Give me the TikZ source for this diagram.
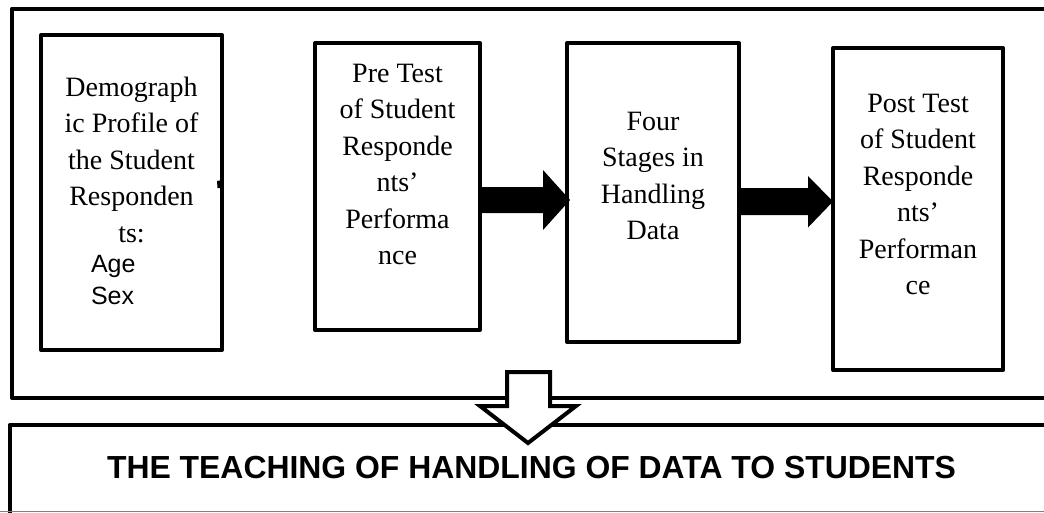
\documentclass[tikz,border=0pt]{standalone}
\usepackage{fontspec}
\setmainfont{Liberation Serif}
\newfontfamily\arialfont{Liberation Sans}
\usetikzlibrary{calc}
\tikzset{
  box/.style={draw=black, line width=4pt, line join=round, outer sep=0pt, inner sep=0pt, anchor=north west},
  boxtext/.style={inner sep=0pt, outer sep=0pt, align=center, anchor=north, font={\fontsize{28}{36.5}\selectfont}},
  listtext/.style={inner sep=0pt, outer sep=0pt, align=left, anchor=north west, font={\arialfont\fontsize{25}{32}\selectfont}},
  blockarrow/.style={fill=black},
  hollowarrow/.style={draw=black, fill=white, line width=4pt, line join=miter},
}
\begin{document}
\begin{tikzpicture}[x=1pt,y=-1pt]
\clip (0,0) rectangle (1044,512);
\fill[white] (0,0) rectangle (1044,512);
% frames
\node[box, minimum width=1040pt, minimum height=389.5pt] (frame) at (12,8.5) {};
\node[box, minimum width=1042pt, minimum height=95pt] (bottom) at (9.5,425) {};
\draw[gray, line width=1.2pt] (0,511.4) -- (1044,511.4);
% boxes
\node[box, minimum width=181pt, minimum height=315pt] (b1) at (41,35) {};
\node[box, minimum width=165pt, minimum height=287pt] (b2) at (315,43) {};
\node[box, minimum width=172pt, minimum height=299pt] (b3) at (567,43) {};
\node[box, minimum width=170pt, minimum height=322pt] (b4) at (833,48) {};
\fill (217,181) -- (222,180) -- (222,188) -- (217.5,188) -- cycle;
% texts
\node[boxtext] (t1) at (131.5,77) {Demograph\\ic Profile of\\the Student\\Responden\\ts:};
\node[listtext] (t1b) at (91,255.5) {Age\\Sex};
\node[boxtext] (t2) at (397.5,64) {Pre Test\\of Student\\Responde\\nts’\\Performa\\nce};
\node[boxtext] (t3) at (653,112) {Four\\Stages in\\Handling\\Data};
\node[boxtext] (t4) at (918,94) {Post Test\\of Student\\Responde\\nts’\\Performan\\ce};
\node[inner sep=0pt, anchor=base, font={\arialfont\bfseries\fontsize{31.9}{36}\selectfont}] (title) at (531.5,478) {THE TEACHING OF HANDLING OF DATA TO STUDENTS};
% arrows
\coordinate (s1) at (b2.east |- 0,200);
\coordinate (e1) at ($(b3.west |- 0,200)+(3,0)$);
\fill[blockarrow] (s1) ++(0,-13) -- ++(63,0) -- ++(0,-17) -- (e1) -- ++(-27,30) -- ++(0,-17) -- ++(-63,0) -- cycle;
\coordinate (s2) at (b3.east |- 0,201.5);
\coordinate (e2) at (b4.west |- 0,201.5);
\fill[blockarrow] (s2) ++(0,-13.5) -- ++(69,0) -- ++(0,-12) -- (e2) -- ++(-25,26) -- ++(0,-12.5) -- ++(-69,0) -- cycle;
\coordinate (s3) at (528.5,372);
\coordinate (e3) at (528,443);
\draw[hollowarrow] (s3) ++(-21.5,0) -- ++(43,0) -- ++(0,34) -- ++(26,0) -- (e3) -- (480,406) -- ++(27,0) -- cycle;
\end{tikzpicture}
\end{document}
